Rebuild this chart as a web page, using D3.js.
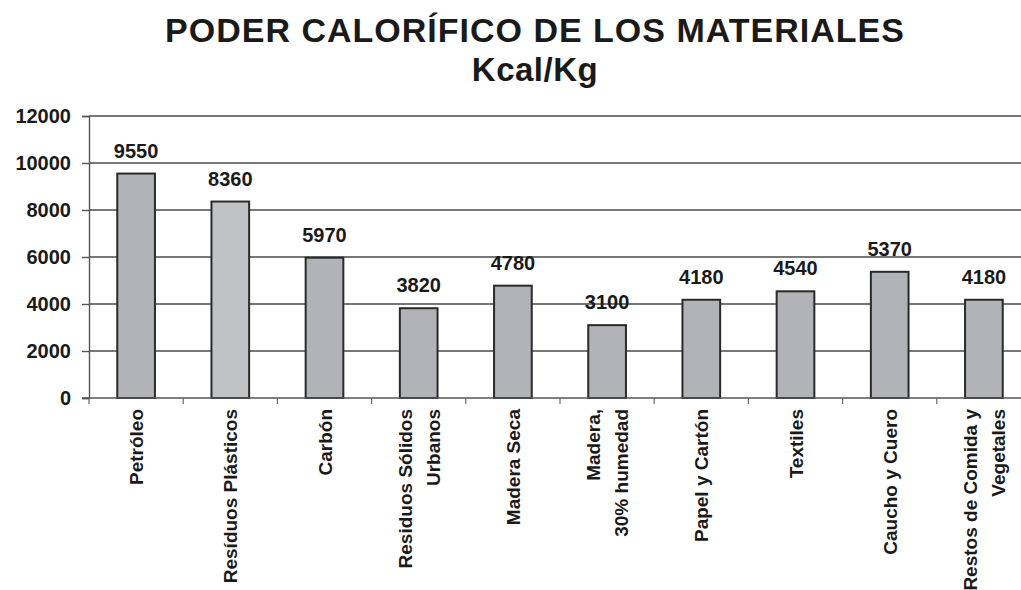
<!DOCTYPE html>
<html>
<head>
<meta charset="utf-8">
<script src="https://cdn.jsdelivr.net/npm/d3@7"></script>
<style>
  body { margin: 0; background: #fff; }
  svg text { font-family: "Liberation Sans", Arial, sans-serif; font-weight: bold; fill: #1a1a1a; }
</style>
</head>
<body>
<div id="chart"></div>
<script>
// data
const categories = [
    ["Petróleo"],
    ["Resíduos Plásticos"],
    ["Carbón"],
    ["Residuos Sólidos", "Urbanos"],
    ["Madera Seca"],
    ["Madera,", "30% humedad"],
    ["Papel y Cartón"],
    ["Textiles"],
    ["Caucho y Cuero"],
    ["Restos de Comida y", "Vegetales"]
];
const values = [9550, 8360, 5970, 3820, 4780, 3100, 4180, 4540, 5370, 4180];
const yTicks = [0, 2000, 4000, 6000, 8000, 10000, 12000];

const W = 1021, H = 590;
const margin = { top: 116, right: -10, bottom: 192, left: 89 };
const width = W - margin.left - margin.right;
const height = H - margin.top - margin.bottom;

const svg = d3.select("#chart").append("svg")
    .attr("width", W)
    .attr("height", H);

// titles
svg.append("text")
    .attr("x", 535).attr("y", 42)
    .attr("text-anchor", "middle")
    .style("font-size", "34px")
    .style("letter-spacing", "1px")
    .text("PODER CALORÍFICO DE LOS MATERIALES");
svg.append("text")
    .attr("x", 535).attr("y", 81)
    .attr("text-anchor", "middle")
    .style("font-size", "33px")
    .style("letter-spacing", "0.5px")
    .text("Kcal/Kg");

const g = svg.append("g")
    .attr("transform", `translate(${margin.left},${margin.top})`);

const x = d3.scaleBand()
    .domain(d3.range(values.length))
    .range([0, width])
    .paddingInner(0.6)
    .paddingOuter(0.3);
const y = d3.scaleLinear()
    .domain([0, 12000])
    .range([height, 0]);

// gridlines
g.append("g")
    .selectAll("line")
    .data(yTicks.filter(d => d > 0))
    .join("line")
        .attr("x1", 0)
        .attr("x2", width)
        .attr("y1", d => y(d))
        .attr("y2", d => y(d))
        .attr("stroke", "#4a4a4a")
        .attr("stroke-width", 1.6);

// y axis
const yAxis = d3.axisLeft(y).tickValues(yTicks).tickFormat(d3.format("d")).tickSize(7).tickPadding(11);
g.append("g")
    .call(yAxis)
    .call(a => a.selectAll("path, line").attr("stroke", "#555").attr("stroke-width", 1.4))
    .call(a => a.selectAll("text").style("font-size", "20px").attr("fill", "#1a1a1a"));

// bars
g.append("g")
    .selectAll("rect")
    .data(values)
    .join("rect")
        .attr("x", (d, i) => x(i))
        .attr("y", d => y(d))
        .attr("width", x.bandwidth())
        .attr("height", d => height - y(d))
        .attr("fill", (d, i) => i == 1 ? "#c1c2c4" : "#b2b3b7")
        .attr("stroke", "#2a2a2a")
        .attr("stroke-width", 2);

// value labels
g.append("g")
    .selectAll("text")
    .data(values)
    .join("text")
        .attr("x", (d, i) => x(i) + x.bandwidth() / 2)
        .attr("y", d => y(d) - 16)
        .attr("text-anchor", "middle")
        .style("font-size", "20px")
        .text(d => d);

// x axis line + category ticks
const step = x.step();
g.append("line")
    .attr("x1", -7).attr("x2", width)
    .attr("y1", height).attr("y2", height)
    .attr("stroke", "#555").attr("stroke-width", 1.6);
g.append("g")
    .selectAll("line")
    .data(d3.range(values.length))
    .join("line")
        .attr("x1", i => x(i) - x.paddingOuter() * step)
        .attr("x2", i => x(i) - x.paddingOuter() * step)
        .attr("y1", height)
        .attr("y2", height + 6)
        .attr("stroke", "#666").attr("stroke-width", 1.2);

// rotated category labels
const lineGap = 28;
const labels = g.append("g")
    .selectAll("g")
    .data(categories)
    .join("g")
        .attr("transform", (d, i) => `translate(${x(i) + x.bandwidth() / 2},${height + 11}) rotate(-90)`);
labels.each(function(lines) {
    const n = lines.length;
    d3.select(this).selectAll("text")
        .data(lines)
        .join("text")
            .attr("x", 0)
            .attr("y", (d, j) => (j - (n - 1) / 2) * lineGap + 7)
            .attr("text-anchor", "end")
            .style("font-size", "19px")
            .text(d => d);
});
</script>
</body>
</html>
